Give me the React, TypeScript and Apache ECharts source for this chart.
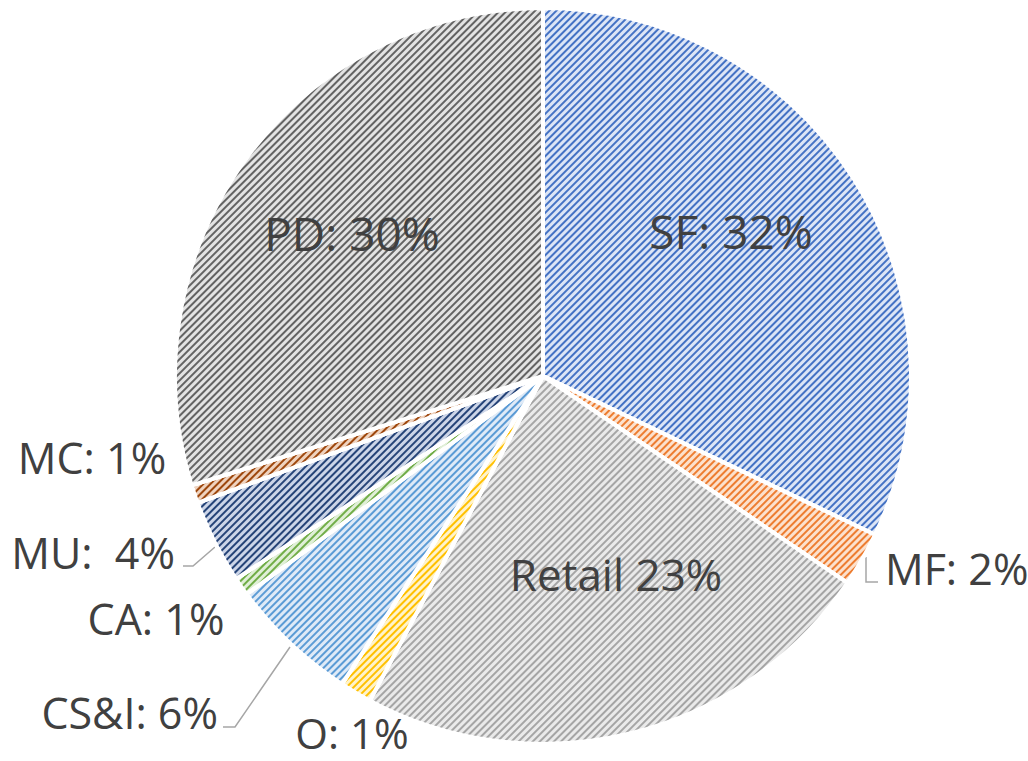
import React, { useEffect, useRef } from "react";
import * as echarts from "echarts";

const categories = ["SF", "MF", "Retail", "O", "CS&I", "CA", "MU", "MC", "PD"];
const shares = [32.1, 2.4, 23.3, 1.4, 5.7, 0.8, 3.7, 0.8, 29.8];
const labelTexts = ["SF: 32%", "MF: 2%", "Retail 23%", "O: 1%", "CS&I: 6%", "CA: 1%", "MU:  4%", "MC: 1%", "PD: 30%"];

const fillColors = ["#dce5f6", "#fce1cd", "#eaeaea", "#fff3cb", "#dfeaf7", "#e0efd7", "#ccd5e8", "#efd3bf", "#e3e3e3"];
const stripeColors = ["#4472c4", "#ed7d31", "#a5a5a5", "#ffc000", "#5b9bd5", "#70ad47", "#264478", "#9e480e", "#636363"];

// label placement (layout, not data)
const labelPlacement: { x: number; y: number; align: string; line?: number[][]; size: number }[] = [
  { x: 731, y: 231, align: "center", size: 46 },
  { x: 885, y: 568, align: "left", line: [[866, 557], [866, 582], [878, 582]], size: 43 },
  { x: 616, y: 574, align: "center", size: 44 },
  { x: 352, y: 732, align: "center", size: 42 },
  { x: 218, y: 712, align: "right", line: [[290, 647], [235, 727], [223, 727]], size: 43 },
  { x: 156, y: 618, align: "center", size: 43 },
  { x: 175, y: 552, align: "right", line: [[215, 547], [193, 566], [183, 566]], size: 43 },
  { x: 92, y: 457, align: "center", size: 43 },
  { x: 352, y: 233, align: "center", size: 46 },
];

export default function App() {
  const ref = useRef<HTMLDivElement>(null);
  useEffect(() => {
    if (!ref.current) return;
    const chart = echarts.init(ref.current, null, { renderer: "svg" });
    const data = categories.map((name, i) => ({
      name,
      value: shares[i],
      itemStyle: {
        color: fillColors[i],
        decal: {
          symbol: "rect",
          symbolSize: 1,
          dashArrayX: [1, 0],
          dashArrayY: [1.25, 3],
          rotation: -Math.PI / 4,
          color: stripeColors[i],
        },
      },
      label: {
        fontSize: labelPlacement[i].size,
        formatter: labelTexts[i],
      },
      labelLine: { show: !!labelPlacement[i].line },
    }));
    chart.setOption({
      animation: false,
      backgroundColor: "#ffffff",
      series: [
        {
          type: "pie",
          center: [543, 376],
          radius: 368,
          startAngle: 90,
          clockwise: true,
          avoidLabelOverlap: false,
          data,
          itemStyle: { borderColor: "#ffffff", borderWidth: 4 },
          label: {
            show: true,
            position: "outside",
            color: "#404040",
            fontFamily: "'Open Sans', sans-serif",
            width: 400,
            overflow: "none",
          },
          labelLine: {
            lineStyle: { color: "#a6a6a6", width: 1.5 },
          },
          labelLayout: (params: any) => {
            const p = labelPlacement[params.dataIndex];
            const out: any = { x: p.x, y: p.y, align: p.align, verticalAlign: "middle" };
            if (p.line) out.labelLinePoints = p.line;
            return out;
          },
          emphasis: { disabled: true },
        },
      ],
    });
    return () => chart.dispose();
  }, []);
  return <div ref={ref} style={{ position: "absolute", left: 0, top: 0, width: 1028, height: 761 }} />;
}
